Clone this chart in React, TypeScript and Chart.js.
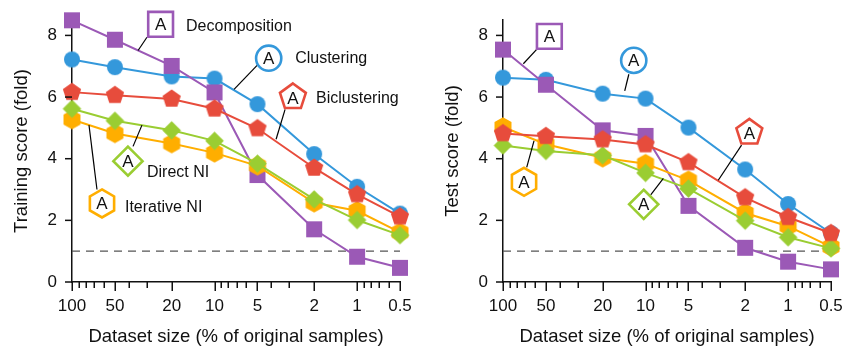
import React, { useEffect, useRef } from 'react';
import { Chart, registerables } from 'chart.js';
Chart.register(...registerables);

// ---------- data ----------
const sizes = [100, 50, 20, 10, 5, 2, 1, 0.5];
const xTickValues = [100, 90, 80, 70, 60, 50, 40, 30, 20, 10, 9, 8, 7, 6, 5, 4, 3, 2, 1, 0.9, 0.8, 0.7, 0.6, 0.5];
const xLabeled = [100, 50, 20, 10, 5, 2, 1, 0.5];
const yTickValues = [0, 2, 4, 6, 8];
const baseline = 1;

const trainDecomposition = [8.49, 7.86, 7.01, 6.15, 3.47, 1.71, 0.82, 0.46];
const trainClustering = [7.22, 6.97, 6.67, 6.6, 5.77, 4.15, 3.09, 2.22];
const trainBiclustering = [6.16, 6.06, 5.94, 5.62, 4.98, 3.7, 2.84, 2.12];
const trainDirectNI = [5.62, 5.23, 4.92, 4.58, 3.84, 2.68, 2.01, 1.52];
const trainIterativeNI = [5.27, 4.82, 4.49, 4.19, 3.77, 2.57, 2.31, 1.61];

const testDecomposition = [7.54, 6.4, 4.92, 4.74, 2.47, 1.11, 0.66, 0.41];
const testClustering = [6.63, 6.56, 6.11, 5.95, 5.01, 3.65, 2.53, 1.58];
const testBiclustering = [4.82, 4.73, 4.62, 4.46, 3.88, 2.74, 2.1, 1.58];
const testDirectNI = [4.43, 4.25, 4.11, 3.54, 3.03, 1.99, 1.45, 1.09];
const testIterativeNI = [5.03, 4.47, 4.03, 3.84, 3.3, 2.24, 1.81, 1.14];

const COLORS = {
  purple: '#9B59B6',
  blue: '#3498DB',
  red: '#E74C3C',
  green: '#9ACD32',
  orange: '#FFAE00',
};
const FONT = "'Liberation Sans', Arial, Helvetica, sans-serif";

// callouts in data coordinates (x = dataset size %, y = fold)
const trainCallouts = [
  { shape: 'square', color: COLORS.purple, cx: 23.9, cy: 8.36, from: [34.4, 7.51], to: [29.8, 7.94], label: 'Decomposition', tx: 15.85, ty: 8.3 },
  { shape: 'circle', color: COLORS.blue, cx: 4.17, cy: 7.26, from: [7.3, 6.25], to: [5.03, 7.03], label: 'Clustering', tx: 2.72, ty: 7.25 },
  { shape: 'pentagon', color: COLORS.red, cx: 2.82, cy: 6.0, from: [3.7, 4.63], to: [3.2, 5.6], label: 'Biclustering', tx: 1.94, ty: 5.96 },
  { shape: 'diamond', color: COLORS.green, cx: 40.5, cy: 3.92, from: [32.3, 5.09], to: [37.3, 4.4], label: 'Direct NI', tx: 29.8, ty: 3.54 },
  { shape: 'hexagon', color: COLORS.orange, cx: 61.6, cy: 2.55, from: [76, 5.09], to: [66.8, 3.0], label: 'Iterative NI', tx: 42.5, ty: 2.43 },
];
const testCallouts = [
  { shape: 'square', color: COLORS.purple, cx: 47.3, cy: 7.97, from: [72.0, 7.08], to: [58.0, 7.55] },
  { shape: 'circle', color: COLORS.blue, cx: 12.1, cy: 7.19, from: [14.0, 6.2], to: [13.1, 6.74] },
  { shape: 'pentagon', color: COLORS.red, cx: 1.87, cy: 4.85, from: [3.09, 3.3], to: [2.12, 4.44] },
  { shape: 'hexagon', color: COLORS.orange, cx: 71.2, cy: 3.25, from: [60.6, 4.58], to: [68.2, 3.72] },
  { shape: 'diamond', color: COLORS.green, cx: 10.3, cy: 2.52, from: [7.5, 3.36], to: [9.2, 2.83] },
];

// ---------- shapes ----------
function shapePath(ctx: CanvasRenderingContext2D, shape: string, cx: number, cy: number, r: number) {
  ctx.beginPath();
  if (shape === 'circle') {
    ctx.arc(cx, cy, r, 0, Math.PI * 2);
  } else if (shape === 'square') {
    ctx.rect(cx - r, cy - r, 2 * r, 2 * r);
  } else if (shape === 'diamond') {
    ctx.moveTo(cx, cy - r);
    ctx.lineTo(cx + r, cy);
    ctx.lineTo(cx, cy + r);
    ctx.lineTo(cx - r, cy);
    ctx.closePath();
  } else {
    const n = shape === 'pentagon' ? 5 : 6;
    for (let i = 0; i < n; i++) {
      const a = -Math.PI / 2 + (i * 2 * Math.PI) / n;
      const px = cx + r * Math.cos(a);
      const py = cy + r * Math.sin(a);
      if (i === 0) ctx.moveTo(px, py);
      else ctx.lineTo(px, py);
    }
    ctx.closePath();
  }
}

const MARKER_R: Record<string, number> = { circle: 8, square: 8, diamond: 9.3, pentagon: 9.6, hexagon: 9.8 };

function makeMarker(shape: string, color: string) {
  const r = MARKER_R[shape];
  const size = Math.ceil(2 * r + 4);
  const c = document.createElement('canvas');
  c.width = size;
  c.height = size;
  const ctx = c.getContext('2d')!;
  ctx.fillStyle = color;
  shapePath(ctx, shape, size / 2, size / 2, r);
  ctx.fill();
  return c;
}

const CALLOUT_R: Record<string, number> = { circle: 12.6, square: 12.4, diamond: 14.6, pentagon: 13.6, hexagon: 14 };

function makePlugin(callouts: any[]) {
  return {
    id: 'decor',
    afterDatasetsDraw(chart: any) {
      const { ctx, chartArea } = chart;
      const x = chart.scales.x;
      const y = chart.scales.y;
      ctx.save();
      // tick marks
      ctx.strokeStyle = '#111';
      ctx.lineWidth = 1.5;
      xTickValues.forEach((v) => {
        const px = Math.round(x.getPixelForValue(v)) + 0.25;
        const len = xLabeled.includes(v) ? 9 : 6;
        ctx.beginPath();
        ctx.moveTo(px, chartArea.bottom);
        ctx.lineTo(px, chartArea.bottom + len);
        ctx.stroke();
      });
      yTickValues.forEach((v) => {
        const py = y.getPixelForValue(v);
        ctx.beginPath();
        ctx.moveTo(chartArea.left - 7, py);
        ctx.lineTo(chartArea.left, py);
        ctx.stroke();
      });
      // callouts
      callouts.forEach((c) => {
        ctx.strokeStyle = '#000';
        ctx.lineWidth = 1.2;
        ctx.beginPath();
        ctx.moveTo(x.getPixelForValue(c.from[0]), y.getPixelForValue(c.from[1]));
        ctx.lineTo(x.getPixelForValue(c.to[0]), y.getPixelForValue(c.to[1]));
        ctx.stroke();
      });
      callouts.forEach((c) => {
        const cx = x.getPixelForValue(c.cx);
        const cy = y.getPixelForValue(c.cy);
        shapePath(ctx, c.shape, cx, cy, CALLOUT_R[c.shape]);
        ctx.fillStyle = '#fff';
        ctx.fill();
        ctx.strokeStyle = c.color;
        ctx.lineWidth = 2.6;
        ctx.stroke();
        ctx.fillStyle = '#111';
        ctx.font = `17px ${FONT}`;
        ctx.textAlign = 'center';
        ctx.textBaseline = 'middle';
        ctx.fillText('A', cx, cy + (c.shape === 'pentagon' ? 2 : 1));
        if (c.label) {
          ctx.font = `16px ${FONT}`;
          ctx.textAlign = 'left';
          ctx.fillText(c.label, x.getPixelForValue(c.tx), y.getPixelForValue(c.ty));
        }
      });
      ctx.restore();
    },
  };
}

function series(values: number[]) {
  return sizes.map((s, i) => ({ x: s, y: values[i] }));
}

type PanelProps = {
  yTitle: string;
  decomposition: number[];
  clustering: number[];
  biclustering: number[];
  directNI: number[];
  iterativeNI: number[];
  callouts: any[];
  axisWidth: number;
  padRight: number;
  titlePad: number;
};

function Panel(p: PanelProps) {
  const ref = useRef<HTMLCanvasElement>(null);
  useEffect(() => {
    const ds = (label: string, values: number[], color: string, shape: string) => ({
      label,
      data: series(values),
      borderColor: color,
      backgroundColor: color,
      borderWidth: 2,
      pointStyle: makeMarker(shape, color),
      pointRadius: 8,
      pointHoverRadius: 8,
      clip: false as any,
      tension: 0,
    });
    const chart = new Chart(ref.current!, {
      type: 'line',
      data: {
        datasets: [
          ds('Biclustering', p.biclustering, COLORS.red, 'pentagon'),
          ds('Direct NI', p.directNI, COLORS.green, 'diamond'),
          ds('Iterative NI', p.iterativeNI, COLORS.orange, 'hexagon'),
          ds('Decomposition', p.decomposition, COLORS.purple, 'square'),
          ds('Clustering', p.clustering, COLORS.blue, 'circle'),
          {
            label: 'baseline',
            data: [
              { x: sizes[0], y: baseline },
              { x: sizes[sizes.length - 1], y: baseline },
            ],
            borderColor: '#555',
            borderWidth: 1.3,
            borderDash: [8, 6],
            pointRadius: 0,
            clip: false as any,
          },
        ],
      },
      options: {
        responsive: false,
        animation: false,
        events: [],
        layout: { padding: { top: 20, right: p.padRight, left: 0, bottom: 0 } },
        plugins: { legend: { display: false }, tooltip: { enabled: false } },
        scales: {
          x: {
            type: 'logarithmic',
            min: 0.5,
            max: 100,
            reverse: true,
            grid: { display: true, drawOnChartArea: false, drawTicks: true, tickLength: 14, tickColor: 'rgba(0,0,0,0)' },
            border: { display: true, color: '#111', width: 1.5 },
            afterBuildTicks: (s: any) => {
              s.ticks = xTickValues.map((v) => ({ value: v }));
            },
            afterFit: (s: any) => {
              s.height = 67;
            },
            ticks: {
              autoSkip: false,
              maxRotation: 0,
              minRotation: 0,
              padding: 0,
              color: '#111',
              font: { size: 17, family: FONT },
              callback: (v: any) => (xLabeled.includes(Number(v)) ? String(v) : ''),
            },
            title: {
              display: true,
              text: 'Dataset size (% of original samples)',
              color: '#111',
              font: { size: 18.5, family: FONT },
              padding: { top: 0, bottom: 1 },
            },
          },
          y: {
            type: 'linear',
            min: 0,
            max: 8.5,
            grid: { display: true, drawOnChartArea: false, drawTicks: true, tickLength: 15, tickColor: 'rgba(0,0,0,0)' },
            border: { display: true, color: '#111', width: 1.5 },
            afterBuildTicks: (s: any) => {
              s.ticks = yTickValues.map((v) => ({ value: v }));
            },
            afterFit: (s: any) => {
              s.width = p.axisWidth;
            },
            ticks: {
              padding: 0,
              color: '#111',
              font: { size: 17, family: FONT },
            },
            title: {
              display: true,
              text: p.yTitle,
              color: '#111',
              font: { size: 18.5, family: FONT },
              padding: { top: p.titlePad, bottom: 0 },
            },
          },
        },
      } as any,
      plugins: [makePlugin(p.callouts)],
    });
    return () => chart.destroy();
  }, []);
  return <canvas ref={ref} width={422} height={349} style={{ width: 422, height: 349, display: 'block' }} />;
}

export default function App() {
  return (
    <div style={{ position: 'absolute', left: 0, top: 0, width: 844, height: 349, background: '#fff' }}>
      <div style={{ position: 'absolute', left: 0, top: 0 }}>
        <Panel
          yTitle="Training score (fold)"
          decomposition={trainDecomposition}
          clustering={trainClustering}
          biclustering={trainBiclustering}
          directNI={trainDirectNI}
          iterativeNI={trainIterativeNI}
          callouts={trainCallouts}
          axisWidth={72}
          padRight={22}
          titlePad={11}
        />
      </div>
      <div style={{ position: 'absolute', left: 422, top: 0 }}>
        <Panel
          yTitle="Test score (fold)"
          decomposition={testDecomposition}
          clustering={testClustering}
          biclustering={testBiclustering}
          directNI={testDirectNI}
          iterativeNI={testIterativeNI}
          callouts={testCallouts}
          axisWidth={81}
          padRight={13}
          titlePad={20}
        />
      </div>
    </div>
  );
}
